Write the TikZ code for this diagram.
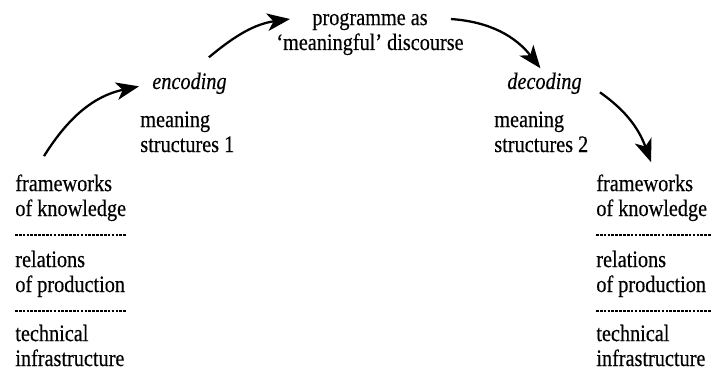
\documentclass[tikz,border=0pt]{standalone}
\usepackage{fontspec}
\setmainfont{Liberation Serif}[FakeStretch=0.86, FakeBold=0.4]
\usetikzlibrary{arrows.meta,calc}

\tikzset{
	lbl/.style={inner sep=0pt, align=left, anchor=base west, font=\fontsize{13.4}{14.2}\selectfont},
	flow/.style={line width=1.3pt, -{Stealth[length=13pt,width=10pt,inset=3.5pt]}},
	sepline/.style={line width=0.7pt, dash pattern=on 1.5pt off 0.7pt}
}

\begin{document}
\begin{tikzpicture}[x=0.02cm, y=0.02cm]
		\useasboundingbox (0,0) rectangle (712,369);
		
		% top
		\node[lbl, align=center, anchor=base] (progr) at (370,319) {programme as\\`meaningful' discourse};
		
		% encoding side
		\node[lbl] (enc) at (152,280) {\itshape encoding};
		\node[lbl] (mean1) at (140,217) {meaning\\structures 1};
		\node[lbl] (know1) at (15,153) {frameworks\\of knowledge};
		\node[lbl] (rel1) at (15,77) {relations\\of production};
		\node[lbl] (tech1) at (15,3) {technical\\infrastructure};
		\draw[sepline] (15,134) -- (127,134);
		\draw[sepline] (15,58) -- (127,58);
		
		% decoding side
		\node[lbl] (dec) at (507,280) {\itshape decoding};
		\node[lbl] (mean2) at (494,217) {meaning\\structures 2};
		\node[lbl] (know2) at (596,153) {frameworks\\of knowledge};
		\node[lbl] (rel2) at (596,77) {relations\\of production};
		\node[lbl] (tech2) at (596,3) {technical\\infrastructure};
		\draw[sepline] (596,134) -- (712,134);
		\draw[sepline] (596,58) -- (712,58);
		
		% arrows
		\draw[flow] ($(know1.north west)+(29,18)$) to[out=58, in=192] ($(enc.west)+(-13,-3)$);
		\draw[flow] ($(enc.north east)+(-18,15)$) to[out=40, in=188] ($(progr.west)+(14,15)$);
		\draw[flow] ($(progr.east)+(-13,15)$) to[out=-4, in=128] ($(dec.north)+(-4,4)$);
		\draw[flow] ($(dec.east)+(18,-9)$) to[out=-35, in=110] ($(know2.north west)+(55,12)$);
	\end{tikzpicture}
\end{document}
